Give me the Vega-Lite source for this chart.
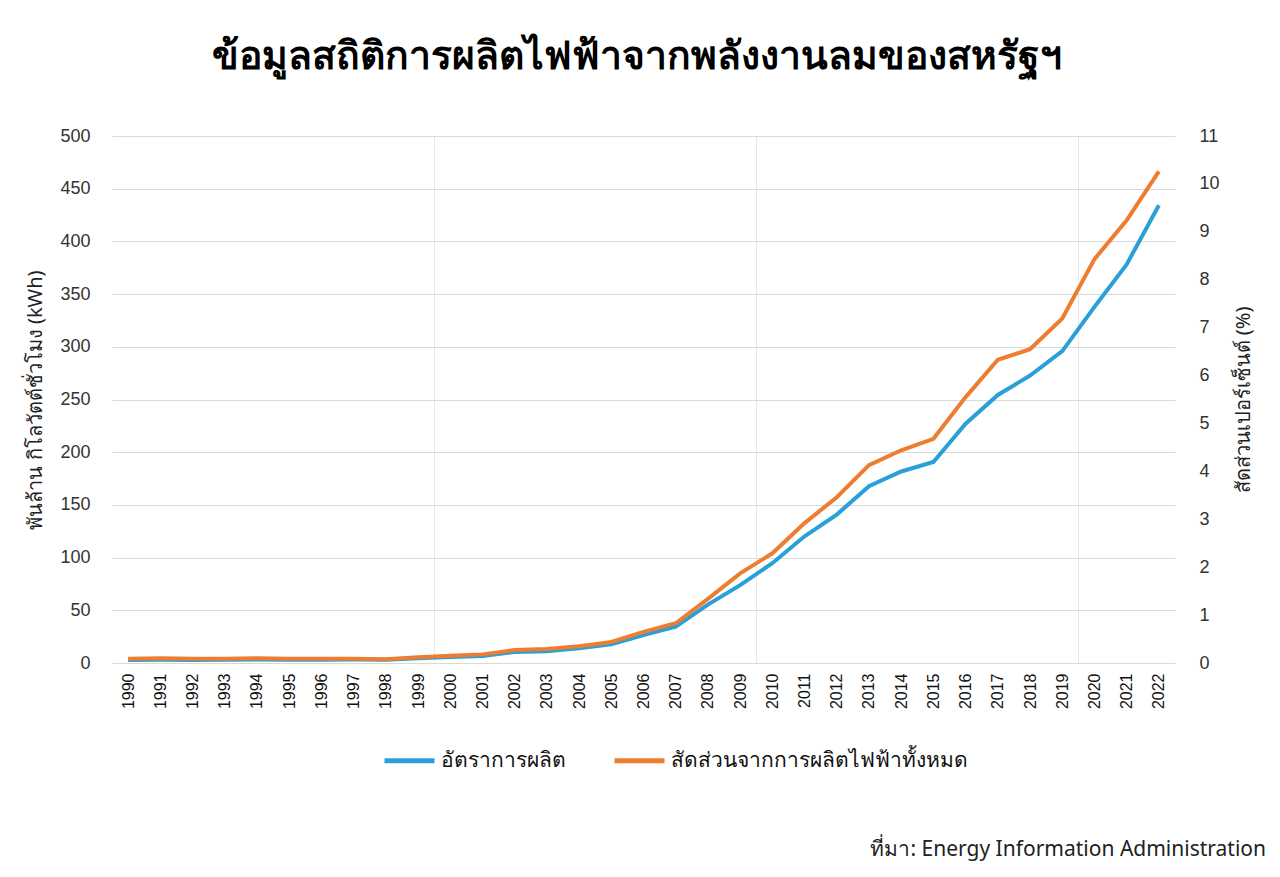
{
  "$schema": "https://vega.github.io/schema/vega-lite/v6.json",
  "background": "white",
  "padding": {"left": 25, "top": 38, "right": 18, "bottom": 10},
  "title": {"text": "ข้อมูลสถิติการผลิตไฟฟ้าจากพลังงานลมของสหรัฐฯ", "fontSize": 39, "fontWeight": "bold", "font": "Noto Sans", "anchor": "middle", "frame": "bounds", "offset": 50, "dx": -9, "color": "black"},
  "config": {
    "view": {"stroke": null},
    "axis": {"labelFont": "Liberation Sans", "labelFontSize": 18, "labelColor": "#333333", "titleFont": "Noto Sans", "titleFontSize": 20, "titleFontWeight": "normal", "titleColor": "#222222", "domain": false, "ticks": false, "gridColor": "#d9d9d9"},
    "axisX": {"labelOverlap": false},
    "legend": {"labelFont": "Noto Sans", "labelFontSize": 21, "labelColor": "#111111", "labelLimit": 0}
  },
  "data": {"values": [
    {"year": 1990, "gen": 2.8, "share": 0.09},
    {"year": 1991, "gen": 3.0, "share": 0.10},
    {"year": 1992, "gen": 2.9, "share": 0.09},
    {"year": 1993, "gen": 3.0, "share": 0.09},
    {"year": 1994, "gen": 3.4, "share": 0.10},
    {"year": 1995, "gen": 3.2, "share": 0.09},
    {"year": 1996, "gen": 3.2, "share": 0.09},
    {"year": 1997, "gen": 3.3, "share": 0.09},
    {"year": 1998, "gen": 3.0, "share": 0.08},
    {"year": 1999, "gen": 4.5, "share": 0.12},
    {"year": 2000, "gen": 5.6, "share": 0.15},
    {"year": 2001, "gen": 6.7, "share": 0.18},
    {"year": 2002, "gen": 10.4, "share": 0.27},
    {"year": 2003, "gen": 11.2, "share": 0.29},
    {"year": 2004, "gen": 14.1, "share": 0.35},
    {"year": 2005, "gen": 17.8, "share": 0.44},
    {"year": 2006, "gen": 26.6, "share": 0.65},
    {"year": 2007, "gen": 34.5, "share": 0.83},
    {"year": 2008, "gen": 55.4, "share": 1.34},
    {"year": 2009, "gen": 73.9, "share": 1.87},
    {"year": 2010, "gen": 94.7, "share": 2.29},
    {"year": 2011, "gen": 120.2, "share": 2.92},
    {"year": 2012, "gen": 140.8, "share": 3.46},
    {"year": 2013, "gen": 167.8, "share": 4.13},
    {"year": 2014, "gen": 181.7, "share": 4.44},
    {"year": 2015, "gen": 190.7, "share": 4.68},
    {"year": 2016, "gen": 227.0, "share": 5.55},
    {"year": 2017, "gen": 254.3, "share": 6.33},
    {"year": 2018, "gen": 272.7, "share": 6.55},
    {"year": 2019, "gen": 295.9, "share": 7.19},
    {"year": 2020, "gen": 337.9, "share": 8.43},
    {"year": 2021, "gen": 378.2, "share": 9.24},
    {"year": 2022, "gen": 434.3, "share": 10.26}
  ]},
  "vconcat": [{
    "width": 1063,
    "height": 527,
    "title": {"text": "ที่มา: Energy Information Administration", "orient": "bottom", "anchor": "end", "frame": "bounds", "fontSize": 21, "fontWeight": "normal", "font": "Noto Sans", "color": "#222222", "offset": 130, "dx": 13},
    "encoding": {
      "x": {"field": "year", "type": "quantitative", "scale": {"domain": [1989.5, 2022.5], "nice": false, "zero": false},
            "axis": {"title": null, "values": [1990,1991,1992,1993,1994,1995,1996,1997,1998,1999,1999.5,2000,2001,2002,2003,2004,2005,2006,2007,2008,2009,2009.5,2010,2011,2012,2013,2014,2015,2016,2017,2018,2019,2019.5,2020,2021,2022],
                     "labelExpr": "datum.value % 1 == 0 ? '' + datum.value : ''", "labelAngle": 270, "labelAlign": "right", "labelBaseline": "middle", "labelPadding": 10, "labelFontSize": 16, "labelColor": "#111111", "labelOverlap": false, "labelBound": false,
                     "grid": true, "gridColor": "#e8e8e8", "gridOpacity": {"condition": {"test": "datum.value % 1 != 0", "value": 1}, "value": 0}}}
    },
    "layer": [
      {
        "mark": {"type": "line", "strokeWidth": 4},
        "encoding": {
          "y": {"field": "gen", "type": "quantitative", "scale": {"domain": [0, 500], "nice": false},
                "axis": {"title": "พันล้าน กิโลวัตต์ชั่วโมง (kWh)", "values": [0,50,100,150,200,250,300,350,400,450,500], "grid": true, "labelPadding": 22, "titlePadding": 14}},
          "color": {"datum": "อัตราการผลิต", "type": "nominal",
                    "scale": {"domain": ["อัตราการผลิต", "สัดส่วนจากการผลิตไฟฟ้าทั้งหมด"], "range": ["#2a9fd8", "#ed7d31"]},
                    "legend": {"orient": "none", "legendX": 270, "legendY": 597, "direction": "horizontal", "title": null, "symbolType": "stroke", "symbolStrokeWidth": 5, "symbolSize": 2500, "columnPadding": 38, "labelOffset": 4}}
        }
      },
      {
        "mark": {"type": "line", "strokeWidth": 4},
        "encoding": {
          "y": {"field": "share", "type": "quantitative", "scale": {"domain": [0, 11], "nice": false},
                "axis": {"orient": "right", "title": "สัดส่วนเปอร์เซ็นต์ (%)", "values": [0,1,2,3,4,5,6,7,8,9,10,11], "grid": false, "labelPadding": 24, "titlePadding": 14, "titleAngle": 270, "titleBaseline": "top"}},
          "color": {"datum": "สัดส่วนจากการผลิตไฟฟ้าทั้งหมด", "type": "nominal"}
        }
      }
    ],
    "resolve": {"scale": {"y": "independent"}}
  }]
}
